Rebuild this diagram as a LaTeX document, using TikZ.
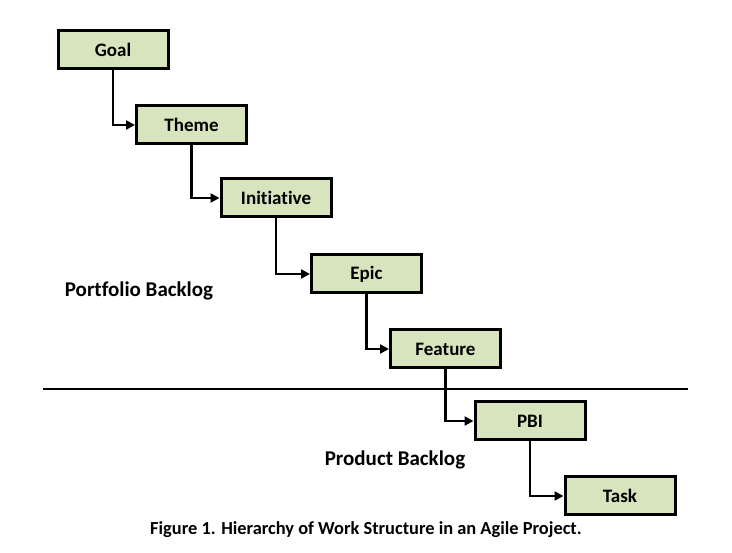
\documentclass[tikz,border=0pt]{standalone}
\usepackage{fontspec}
\setmainfont[Ligatures=NoCommon]{Carlito}
\usetikzlibrary{arrows.meta}
\definecolor{boxgreen}{HTML}{D7E4BD}
\tikzset{
  wbox/.style={draw=black, fill=boxgreen, line width=3pt, minimum width=110pt, minimum height=38pt, inner sep=0pt, font=\bfseries\fontsize{19}{21}\selectfont},
  link/.style={line width=2.8pt, -{Triangle[length=9pt,width=9pt]}},
  lbl/.style={font=\bfseries\fontsize{21}{23}\selectfont, inner sep=0pt}
}
\begin{document}
\begin{tikzpicture}[x=1pt,y=-1pt]
\useasboundingbox (0,0) rectangle (732,553);
\node[wbox] (goal) at (113,50) {Goal};
\node[wbox] (theme) at (191.5,125) {Theme};
\node[wbox] (init) at (276,198) {Initiative};
\node[wbox] (epic) at (366.5,274) {Epic};
\node[wbox] (feat) at (445.5,349) {Feature};
\node[wbox] (pbi) at (530,421) {PBI};
\node[wbox] (task) at (620,496) {Task};
\draw[link] (goal.south) |- (theme.west);
\draw[link] (theme.south) |- (init.west);
\draw[link] (init.south) |- (epic.west);
\draw[link] (epic.south) |- (feat.west);
\draw[link] (feat.south) |- (pbi.west);
\draw[link] (pbi.south) |- (task.west);
\coordinate (hl) at (43,389);
\coordinate (hr) at (688,389);
\draw[line width=2.8pt] (hl) -- (hr);
\node[lbl] (pf) at (139,291) {Portfolio Backlog};
\node[lbl] (pd) at (395,460) {Product Backlog};
\node[font=\bfseries\fontsize{18.4}{20}\selectfont, inner sep=0pt] (cap) at (366,530) {Figure 1. Hierarchy of Work Structure in an Agile Project.};
\end{tikzpicture}
\end{document}
